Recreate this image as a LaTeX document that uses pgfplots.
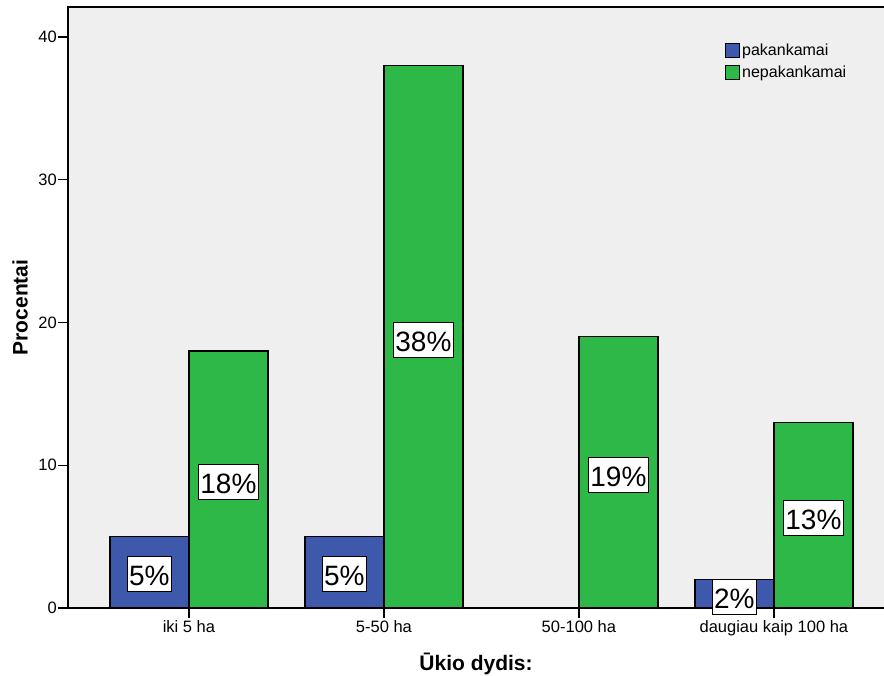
\documentclass[border=0pt]{standalone}
\usepackage{fontspec}
\setmainfont{Liberation Sans}
\usepackage{pgfplots}
\pgfplotsset{compat=1.18}
\usetikzlibrary{calc}
\definecolor{spssblue}{RGB}{62,88,172}
\definecolor{spssgreen}{RGB}{46,184,72}
\definecolor{plotbg}{RGB}{239,239,239}
\tikzset{lbl/.style={fill=white, draw=black, line width=0.8pt,
    font=\fontsize{28}{28}\selectfont, inner xsep=1.5pt, inner ysep=3pt,
    text height=26pt, text depth=3pt, anchor=center}}

\begin{document}
\begin{tikzpicture}
\begin{axis}[
  scale only axis,
  width=826.8pt, height=601pt,
  xmin=-0.62, xmax=3.62,
  ymin=0, ymax=42.1,
  clip=false,
  ybar=0pt, bar width=79pt,
  axis background/.style={fill=plotbg},
  axis line style={line width=1.2pt},
  xtick={0,1,2,3},
  xticklabels={iki 5 ha, 5-50 ha, 50-100 ha, daugiau kaip 100 ha},
  ytick={0,10,20,30,40},
  xtick pos=bottom, ytick pos=left,
  tick align=outside, major tick length=10pt,
  tick style={black, line width=1.2pt},
  /pgf/number format/assume math mode=true,
  ticklabel style={font=\fontsize{16.5}{16.5}\selectfont},
  yticklabel style={inner xsep=1pt},
  xticklabel style={inner ysep=2pt},
  xlabel={Ūkio dydis:},
  ylabel={Procentai},
  label style={font=\bfseries\fontsize{21}{21}\selectfont},
  xlabel style={at={(axis description cs:0.4935,-0.093)}, anchor=center},
  ylabel style={at={(axis description cs:-0.058,0.5)}, anchor=center},
  legend style={draw=none, fill=none, at={(axis description cs:0.7946,0.942)},
    anchor=north west, font=\fontsize{16}{16}\selectfont,
    row sep=5pt, inner sep=0pt},
  legend cell align=left,
  legend image code/.code={\draw[#1, line width=1pt] (0pt,-7pt) rectangle (14pt,7pt);},
]
\addplot[fill=spssblue, draw=black, line width=1.2pt]
  coordinates {(0,5) (1,5) (3,2)};
\addplot[fill=spssgreen, draw=black, line width=1.2pt]
  coordinates {(0,18) (1,38) (2,19) (3,13)};
\legend{pakankamai, nepakankamai}

\node[lbl, xshift=-39.5pt] at (axis cs:0,2.4) {5\%};
\node[lbl, xshift=39.5pt] at (axis cs:0,8.8) {18\%};
\node[lbl, xshift=-39.5pt] at (axis cs:1,2.4) {5\%};
\node[lbl, xshift=39.5pt] at (axis cs:1,18.8) {38\%};
\node[lbl, xshift=39.5pt] at (axis cs:2,9.3) {19\%};
\node[lbl, xshift=-39.5pt] at (axis cs:3,0.8) {2\%};
\node[lbl, xshift=39.5pt] at (axis cs:3,6.3) {13\%};

\coordinate (ll) at (rel axis cs:0,0);
\end{axis}
\pgfresetboundingbox
\path ($(ll)+(-68pt,-68pt)$) rectangle ($(ll)+(816pt,608pt)$);
\end{tikzpicture}
\end{document}
